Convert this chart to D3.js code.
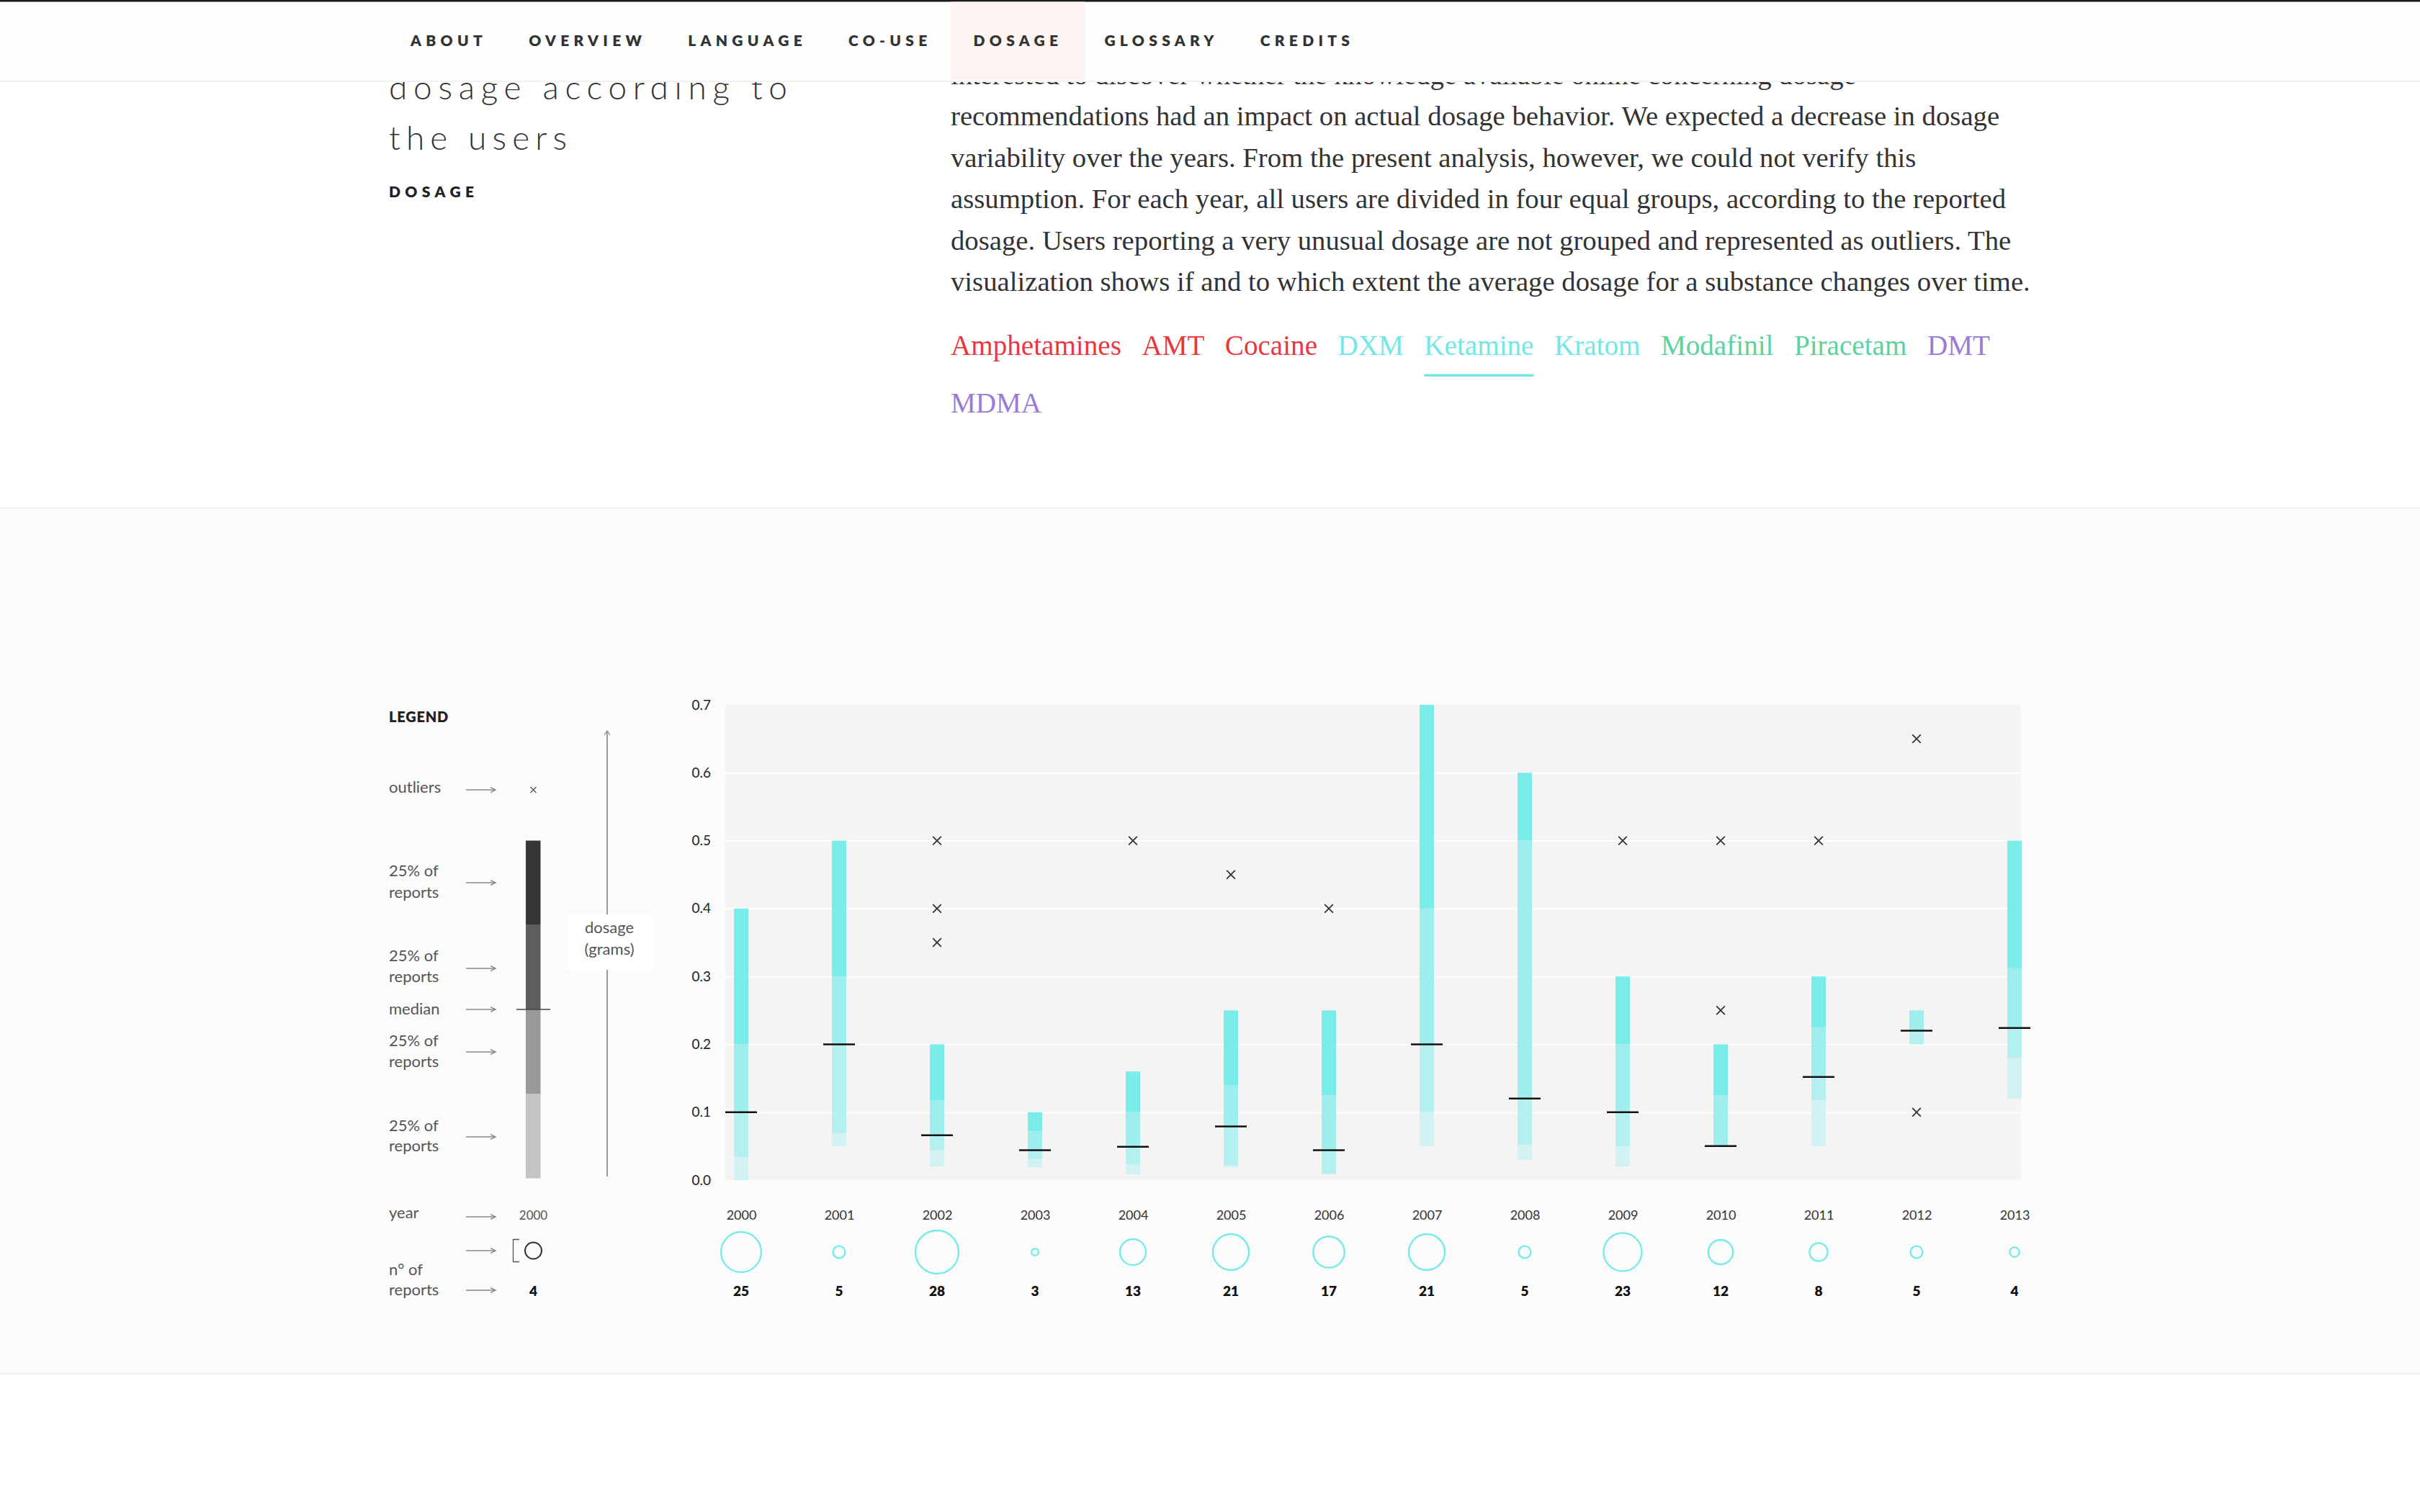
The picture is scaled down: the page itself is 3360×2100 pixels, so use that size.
<!DOCTYPE html>
<html><head><meta charset="utf-8">
<script src="https://cdn.jsdelivr.net/npm/d3@7/dist/d3.min.js"></script>
<style>
html,body{margin:0;padding:0;background:#fff;overflow:hidden}
svg{display:block}
</style></head><body>
<svg id="page" width="3360" height="2100"></svg>
<script>
// ---------------- DATA ----------------
const navItems = ["ABOUT","OVERVIEW","LANGUAGE","CO-USE","DOSAGE","GLOSSARY","CREDITS"];
const activeNav = "DOSAGE";
const titleLines = ["dosage according to","the users"];
const sectionLabel = "DOSAGE";
const paragraphLines = [
  "interested to discover whether the knowledge available online concerning dosage",
  "recommendations had an impact on actual dosage behavior. We expected a decrease in dosage",
  "variability over the years. From the present analysis, however, we could not verify this",
  "assumption. For each year, all users are divided in four equal groups, according to the reported",
  "dosage. Users reporting a very unusual dosage are not grouped and represented as outliers. The",
  "visualization shows if and to which extent the average dosage for a substance changes over time."
];
const substances = ["Amphetamines","AMT","Cocaine","DXM","Ketamine","Kratom","Modafinil","Piracetam","DMT","MDMA"];
const substanceGroup = ["stimulant","stimulant","stimulant","dissociative","dissociative","dissociative","nootropic","nootropic","psychedelic","psychedelic"];
const activeSubstance = "Ketamine";

const years      = [2000,2001,2002,2003,2004,2005,2006,2007,2008,2009,2010,2011,2012,2013];
const minDose    = [0.000,0.050,0.020,0.019,0.0085,0.019,0.009,0.050,0.030,0.020,0.050,0.050,0.200,0.120];
const q1Dose     = [0.034,0.070,0.044,0.031,0.0235,0.022,0.009,0.100,0.052,0.050,0.050,0.118,0.200,0.180];
const medianDose = [0.100,0.200,0.066,0.044,0.049,0.079,0.044,0.200,0.120,0.100,0.050,0.152,0.220,0.224];
const q3Dose     = [0.200,0.300,0.117,0.072,0.100,0.140,0.125,0.400,0.500,0.200,0.125,0.225,0.250,0.312];
const maxDose    = [0.400,0.500,0.200,0.100,0.160,0.250,0.250,0.700,0.600,0.300,0.200,0.300,0.250,0.500];
const reports    = [25,5,28,3,13,21,17,21,5,23,12,8,5,4];
const outliers   = [[],[],[0.5,0.4,0.35],[],[0.5],[0.45],[0.4],[],[],[0.5],[0.5,0.25],[0.5],[0.65,0.1],[]];
const yTicks     = [0,0.1,0.2,0.3,0.4,0.5,0.6,0.7];

const legendTitle = "LEGEND";
const legendRows = [["outliers"],["25% of","reports"],["25% of","reports"],["median"],["25% of","reports"],["25% of","reports"],["year"],["n° of","reports"]];
const legendAxisLabel = ["dosage","(grams)"];
const legendYear = "2000";
const legendReports = 4;

// ---------------- STYLE ----------------
const SANS = "Lato, 'Source Sans Pro', 'Open Sans', sans-serif";
const SERIF = "'Liberation Serif', 'DejaVu Serif', serif";
const groupColor = {stimulant:"#e8383d", dissociative:"#72e7e5", nootropic:"#5ed29d", psychedelic:"#9b7bd7"};
const segColors = ["#d2f1f1","#b6efef","#a0eded","#7aecea"]; // bottom -> top quartile
const legendSegColors = ["#c4c4c4","#999999","#5e5e5e","#363636"];

const svg = d3.select("#page");
const defs = svg.append("defs");
defs.append("marker").attr("id","arr").attr("markerUnits","userSpaceOnUse")
  .attr("markerWidth",10).attr("markerHeight",10).attr("refX",7).attr("refY",4).attr("orient","auto")
  .append("path").attr("d","M0,0.5 L7,4 L0,7.5").attr("fill","none").attr("stroke","#777").attr("stroke-width",1.2);

svg.append("rect").attr("width",3360).attr("height",2100).attr("fill","#fff");

// ---------------- HEADER TEXT ----------------
const title = svg.append("g");
const titleWidths = [553, 247];
titleLines.forEach((t,i)=>{
  title.append("text").attr("x",540).attr("y",138+i*70)
    .attr("font-family",SANS).attr("font-weight",300).attr("font-size",46)
    .attr("fill","#333").attr("textLength",titleWidths[i]).attr("lengthAdjust","spacing").text(t);
});
svg.append("text").attr("x",540).attr("y",274).attr("font-family",SANS).attr("font-weight",800)
  .attr("font-size",21).attr("fill","#222").attr("textLength",118).attr("lengthAdjust","spacing").text(sectionLabel);

// paragraph
const para = svg.append("g").attr("font-family",SERIF).attr("fill","#333");
const probe = para.append("text").attr("font-size",38).text(paragraphLines[5]);
const paraSize = 38*1499/probe.node().getComputedTextLength();
probe.remove();
paragraphLines.forEach((t,i)=>{
  para.append("text").attr("x",1320).attr("y",116.7+i*57.5).attr("font-size",paraSize).text(t);
});

// substance tabs: fit first row (up to DMT) to the text column
const tabs = svg.append("g").attr("font-family",SERIF);
const tabGap = 28.5;
let rowW = 0;
substances.slice(0,9).forEach((s,i)=>{
  const p = tabs.append("text").attr("font-size",40).text(s);
  rowW += p.node().getComputedTextLength() + (i<8?tabGap:0);
  p.remove();
});
const tabSize = 40*(1443 - 8*tabGap)/(rowW - 8*tabGap);
let tx = 1320, ty = 493;
substances.forEach((s,i)=>{
  const t = tabs.append("text").attr("font-size",tabSize).attr("fill",groupColor[substanceGroup[i]]).text(s);
  const w = t.node().getComputedTextLength();
  if (tx + w > 2830) { tx = 1320; ty += 80; }
  t.attr("x",tx).attr("y",ty);
  if (s === activeSubstance) {
    tabs.append("rect").attr("x",tx).attr("y",519.5).attr("width",w).attr("height",3.5).attr("fill",groupColor[substanceGroup[i]]);
  }
  tx += w + tabGap;
});

// ---------------- NAV BAR (on top of scrolled text) ----------------
const nav = svg.append("g");
nav.append("rect").attr("x",0).attr("y",0).attr("width",3360).attr("height",112).attr("fill","#fdfdfd");
nav.append("rect").attr("x",0).attr("y",112).attr("width",3360).attr("height",2).attr("fill","#f1f1f1");
nav.append("rect").attr("x",0).attr("y",0).attr("width",3360).attr("height",2.5).attr("fill","#1a1a1a");
let nx = 570;
navItems.forEach(item=>{
  const t = nav.append("text").attr("x",nx).attr("y",64).attr("font-family",SANS).attr("font-weight",800)
    .attr("font-size",21).attr("fill","#333").attr("letter-spacing",6.3).text(item);
  const w = t.node().getComputedTextLength();
  if (item === activeNav) {
    nav.insert("rect","text").attr("x",nx-31).attr("y",2.5).attr("width",w+62).attr("height",108).attr("fill","#fdf3f1");
  }
  nx += w + 58;
});

// ---------------- CHART SECTION ----------------
svg.append("rect").attr("x",0).attr("y",706).attr("width",3360).attr("height",1202).attr("fill","#fbfbfb");
svg.append("rect").attr("x",0).attr("y",705).attr("width",3360).attr("height",2).attr("fill","#efefef");
svg.append("rect").attr("x",0).attr("y",1907).attr("width",3360).attr("height",2).attr("fill","#efefef");

const x = d3.scalePoint().domain(years).range([1029, 2797]);
const y = d3.scaleLinear().domain([0,0.7]).range([1639, 979]);
const r = d3.scaleSqrt().domain([3,28]).range([4.8,30]);

const chart = svg.append("g");
chart.append("rect").attr("x",1007).attr("y",y(0.7)).attr("width",2806-1007).attr("height",y(0)-y(0.7)).attr("fill","#f4f4f4");

// gridlines + y axis via d3.axisLeft
const yAxis = chart.append("g").attr("transform","translate(1007,0)")
  .call(d3.axisLeft(y).tickValues(yTicks).tickFormat(d3.format(".1f")).tickSize(-(2806-1007)).tickPadding(20));
yAxis.select(".domain").remove();
yAxis.selectAll(".tick line").attr("stroke","#fff").attr("stroke-width",2)
  .attr("display",d=> (d===0||d===0.7)?"none":null);
yAxis.selectAll(".tick text").attr("font-family",SANS).attr("font-size",19).attr("fill","#222");

// bars
const stats = years.map((yr,i)=>({year:yr, v:[minDose[i],q1Dose[i],medianDose[i],q3Dose[i],maxDose[i]], n:reports[i], out:outliers[i]}));
const segs = [];
stats.forEach(s=>{ for(let k=0;k<4;k++){ if (s.v[k+1]>s.v[k]) segs.push({year:s.year, lo:s.v[k], hi:s.v[k+1], k}); } });
chart.append("g").selectAll("rect").data(segs).join("rect")
  .attr("x",d=>x(d.year)-10).attr("width",20)
  .attr("y",d=>y(d.hi)).attr("height",d=>y(d.lo)-y(d.hi))
  .attr("fill",d=>segColors[d.k]);

chart.append("g").selectAll("line").data(stats).join("line")
  .attr("x1",d=>x(d.year)-22).attr("x2",d=>x(d.year)+22)
  .attr("y1",d=>y(d.v[2])).attr("y2",d=>y(d.v[2]))
  .attr("stroke","#111").attr("stroke-width",2.5);

// outliers
const outPts = [];
stats.forEach(s=>s.out.forEach(o=>outPts.push({year:s.year, val:o})));
const og = chart.append("g").attr("stroke","#333").attr("stroke-width",1.8);
og.selectAll("path").data(outPts).join("path")
  .attr("d",d=>{const cx=x(d.year), cy=y(d.val), h=5.8; return `M${cx-h},${cy-h}L${cx+h},${cy+h}M${cx-h},${cy+h}L${cx+h},${cy-h}`;});

// x axis labels (years)
const xAxis = chart.append("g").attr("transform","translate(0,1688)")
  .call(d3.axisBottom(x).tickSize(0).tickPadding(0));
xAxis.select(".domain").remove();
xAxis.selectAll(".tick text").attr("font-family",SANS).attr("font-size",18).attr("fill","#333").attr("dy","0.35em").attr("y",0);

// report circles
chart.append("g").selectAll("circle").data(stats).join("circle")
  .attr("cx",d=>x(d.year)).attr("cy",1739).attr("r",d=>r(d.n))
  .attr("fill","none").attr("stroke","#78ebe9").attr("stroke-width",2.4);
chart.append("g").selectAll("text").data(stats).join("text")
  .attr("x",d=>x(d.year)).attr("y",1800).attr("text-anchor","middle")
  .attr("font-family",SANS).attr("font-weight",800).attr("font-size",19).attr("fill","#111")
  .text(d=>d.n);

// ---------------- LEGEND ----------------
const lg = svg.append("g").attr("font-family",SANS);
lg.append("text").attr("x",540).attr("y",1003).attr("font-weight",800).attr("font-size",20).attr("fill","#222")
  .attr("letter-spacing",0.8).text(legendTitle);

const rowLineBase = [[1101],[1217,1247],[1335,1364],[1409],[1453,1482],[1571,1599],[1692],[1771,1799]];
legendRows.forEach((lines,i)=>{
  lines.forEach((ln,j)=>{
    lg.append("text").attr("x",540).attr("y",rowLineBase[i][j]).attr("font-size",22).attr("fill","#555").text(ln);
  });
});
// arrows
const arrowYs = [1097,1226,1345,1402,1461,1579,1690,1737,1792];
lg.append("g").selectAll("line").data(arrowYs).join("line")
  .attr("x1",647).attr("x2",688).attr("y1",d=>d).attr("y2",d=>d)
  .attr("stroke","#888").attr("stroke-width",1.3).attr("marker-end","url(#arr)");

// outlier symbol
const lcx = 740.5;
lg.append("path").attr("d",`M${lcx-4},${1097-4}L${lcx+4},${1097+4}M${lcx-4},${1097+4}L${lcx+4},${1097-4}`)
  .attr("stroke","#555").attr("stroke-width",1.3);

// legend bar (four quartiles)
const ly = d3.scaleLinear().domain([0,4]).range([1636.5,1167.5]);
lg.append("g").selectAll("rect").data(d3.range(4)).join("rect")
  .attr("x",730).attr("width",20.5).attr("y",d=>ly(d+1)).attr("height",d=>ly(d)-ly(d+1))
  .attr("fill",d=>legendSegColors[d]);
lg.append("line").attr("x1",717).attr("x2",764).attr("y1",ly(2)).attr("y2",ly(2)).attr("stroke","#444").attr("stroke-width",1.3);

// year + circle + count
lg.append("text").attr("x",lcx).attr("y",1694).attr("text-anchor","middle").attr("font-size",17).attr("fill","#555").text(legendYear);
lg.append("path").attr("d","M721,1721.5L712.5,1721.5L712.5,1752.5L721,1752.5").attr("fill","none").attr("stroke","#555").attr("stroke-width",1.3);
lg.append("circle").attr("cx",lcx).attr("cy",1737).attr("r",11.5).attr("fill","none").attr("stroke","#333").attr("stroke-width",2);
lg.append("text").attr("x",lcx).attr("y",1800).attr("text-anchor","middle").attr("font-weight",800).attr("font-size",19).attr("fill","#111").text(legendReports);

// dosage axis
lg.append("line").attr("x1",843).attr("x2",843).attr("y1",1634).attr("y2",1016).attr("stroke","#999").attr("stroke-width",2);
lg.append("path").attr("d","M839,1021L843,1015L847,1021").attr("fill","none").attr("stroke","#888").attr("stroke-width",1.2);
lg.append("rect").attr("x",787).attr("y",1270).attr("width",121).attr("height",77).attr("fill","#fff");
legendAxisLabel.forEach((t,i)=>{
  lg.append("text").attr("x",846).attr("y",1296+i*30).attr("text-anchor","middle").attr("font-size",22).attr("fill","#555").text(t);
});
</script>
</body></html>
